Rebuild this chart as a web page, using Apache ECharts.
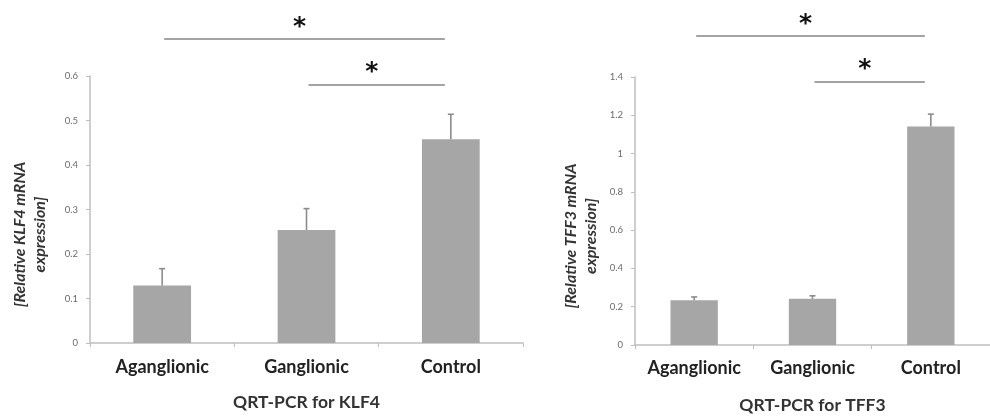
<!DOCTYPE html>
<html>
<head>
<meta charset="utf-8">
<script src="https://cdn.jsdelivr.net/npm/echarts@6/dist/echarts.min.js"></script>
<style>html,body{margin:0;padding:0;background:#fff}#c{width:990px;height:419px}</style>
</head>
<body>
<div id="c"></div>
<script>
// ---- data ----
const categories = ['Aganglionic', 'Ganglionic', 'Control'];
const klf4Values = [0.129, 0.254, 0.458];
const klf4Errors = [0.038, 0.048, 0.056];
const tff3Values = [0.234, 0.241, 1.141];
const tff3Errors = [0.017, 0.016, 0.065];
// significance brackets: [fromCategoryIndex, toCategoryIndex, level]
const klf4Sig = [[0, 2, 0.683], [1, 2, 0.580]];
const tff3Sig = [[0, 2, 1.614], [1, 2, 1.374]];
const klf4Axis = { min: 0, max: 0.6, interval: 0.1 };
const tff3Axis = { min: 0, max: 1.4, interval: 0.2 };
const klf4Title = 'QRT-PCR for KLF4';
const tff3Title = 'QRT-PCR for TFF3';
const klf4YName = '[Relative KLF4 mRNA\nexpression]';
const tff3YName = '[Relative TFF3 mRNA\nexpression]';
const sigMark = '*';

const FONT = 'Lato';
const BAR = '#a6a6a6';
const AXIS = '#bfbfbf';

function errorRender(params, api) {
  const x = api.value(0), v = api.value(1), e = api.value(2);
  const b = api.coord([x, v]);
  const t = api.coord([x, v + e]);
  const st = { stroke: '#8c8c8c', lineWidth: 1.6 };
  return { type: 'group', children: [
    { type: 'line', shape: { x1: b[0], y1: b[1], x2: t[0], y2: t[1] }, style: st },
    { type: 'line', shape: { x1: t[0] - 3, y1: t[1], x2: t[0] + 3, y2: t[1] }, style: st }
  ]};
}
function sigRender(params, api) {
  const p1 = api.coord([api.value(0), api.value(2)]);
  const p2 = api.coord([api.value(1), api.value(2)]);
  const x1 = p1[0] + 2, x2 = p2[0] - 6;
  return { type: 'group', children: [
    { type: 'line', shape: { x1: x1, y1: p1[1], x2: x2, y2: p2[1] }, style: { stroke: '#a3a3a3', lineWidth: 2 } },
    { type: 'text', x: (x1 + x2) / 2 - 5, y: p1[1] - 12,
      style: { text: sigMark, fill: '#111', font: 'bold 25px "DejaVu Sans"', textAlign: 'center', textVerticalAlign: 'middle' } }
  ]};
}

function xAxisCfg(gridIndex, name, margin, gap) {
  return {
    type: 'category', gridIndex: gridIndex, data: categories,
    axisLine: { lineStyle: { color: AXIS, width: 1.5 } },
    axisTick: { show: true, length: 4, lineStyle: { color: AXIS } },
    axisLabel: { interval: 0, margin: margin, fontFamily: FONT, fontWeight: 'bold', fontSize: 18, color: '#222' },
    name: name, nameLocation: 'middle', nameGap: gap,
    nameTextStyle: { fontFamily: FONT, fontWeight: 'bold', fontSize: 17.5, color: '#333' }
  };
}
function yAxisCfg(gridIndex, ax, name, gap) {
  return {
    type: 'value', gridIndex: gridIndex, min: ax.min, max: ax.max, interval: ax.interval,
    axisLine: { show: true, lineStyle: { color: AXIS, width: 1.5 } },
    axisTick: { show: true, length: 4, lineStyle: { color: AXIS } },
    splitLine: { show: false },
    axisLabel: { fontSize: 9.5, color: '#6b6b6b', fontFamily: FONT, margin: 12 },
    name: name, nameLocation: 'middle', nameRotate: 90, nameGap: gap,
    nameTextStyle: { fontFamily: FONT, fontStyle: 'italic', fontWeight: 'bold', fontSize: 16, color: '#333', lineHeight: 20, padding: [0, 50, 0, 0] }
  };
}

const chart = echarts.init(document.getElementById('c'), null, { renderer: 'canvas' });
chart.setOption({
  animation: false,
  grid: [
    { left: 90, right: 467, top: 76, bottom: 76 },
    { left: 635, right: -8, top: 77, bottom: 73 }
  ],
  xAxis: [xAxisCfg(0, klf4Title, 15, 50), xAxisCfg(1, tff3Title, 14, 51)],
  yAxis: [yAxisCfg(0, klf4Axis, klf4YName, 40), yAxisCfg(1, tff3Axis, tff3YName, 34)],
  series: [
    { type: 'bar', xAxisIndex: 0, yAxisIndex: 0, data: klf4Values, barWidth: '40%', itemStyle: { color: BAR } },
    { type: 'custom', xAxisIndex: 0, yAxisIndex: 0, renderItem: errorRender, encode: { x: 0, y: 1 },
      data: categories.map((c, i) => [i, klf4Values[i], klf4Errors[i]]), z: 3 },
    { type: 'custom', xAxisIndex: 0, yAxisIndex: 0, renderItem: sigRender, encode: { x: [0, 1], y: 2 },
      data: klf4Sig, clip: false, z: 4 },
    { type: 'bar', xAxisIndex: 1, yAxisIndex: 1, data: tff3Values, barWidth: '40%', itemStyle: { color: BAR } },
    { type: 'custom', xAxisIndex: 1, yAxisIndex: 1, renderItem: errorRender, encode: { x: 0, y: 1 },
      data: categories.map((c, i) => [i, tff3Values[i], tff3Errors[i]]), z: 3 },
    { type: 'custom', xAxisIndex: 1, yAxisIndex: 1, renderItem: sigRender, encode: { x: [0, 1], y: 2 },
      data: tff3Sig, clip: false, z: 4 }
  ]
});
</script>
</body>
</html>
